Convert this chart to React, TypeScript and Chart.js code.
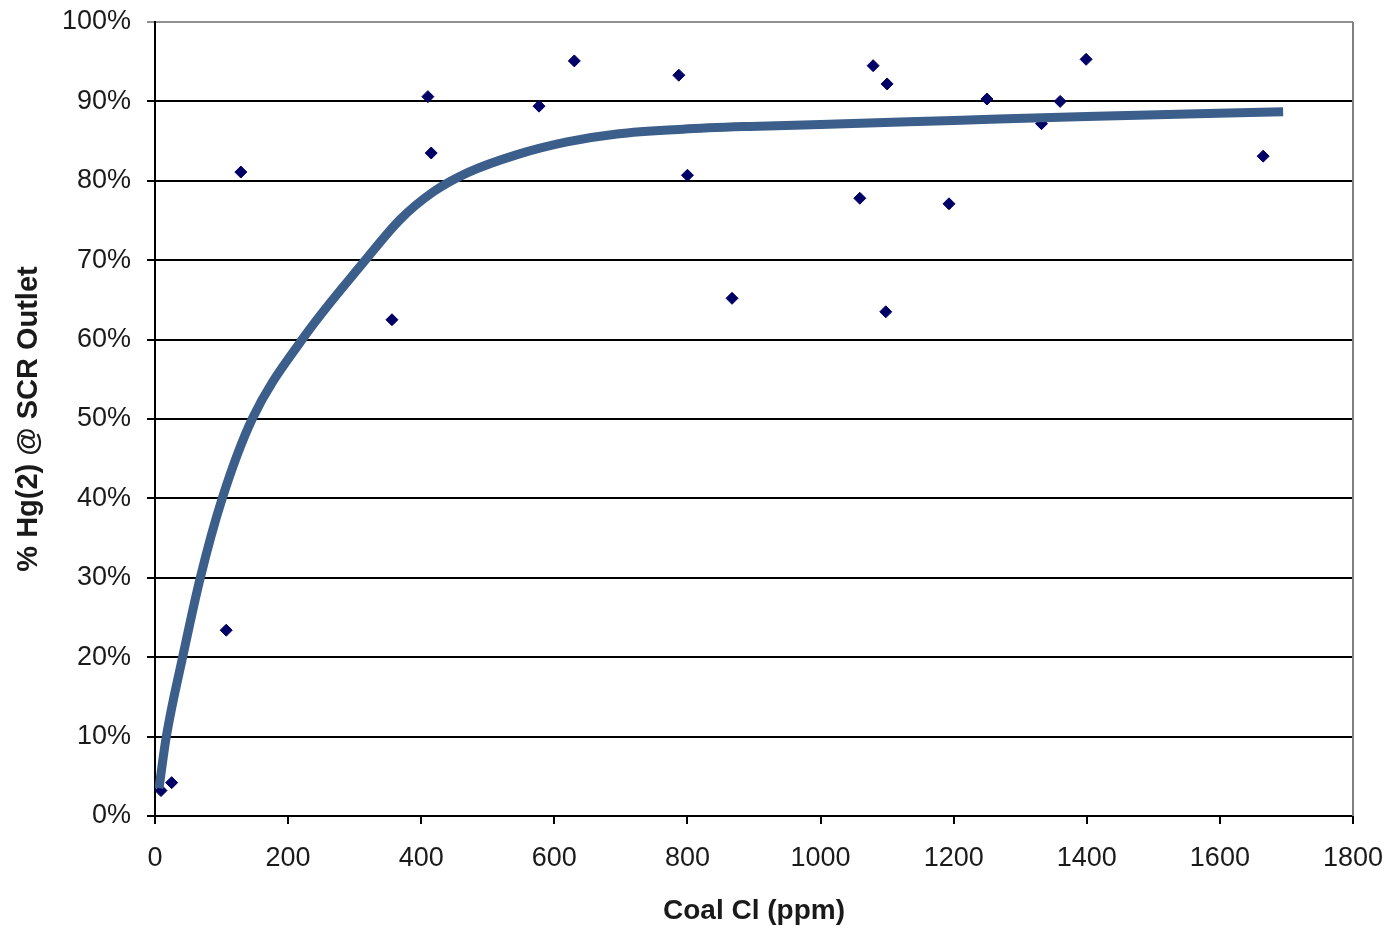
import React, { useEffect, useRef } from "react";
import { Chart, registerables } from "chart.js";

Chart.register(...registerables);

// Measured data: Coal Cl (ppm) vs % Hg(2) at SCR outlet
const coalCl = [9, 25, 107, 129, 356, 410, 415, 577, 630, 787, 800, 867, 1059, 1079, 1098, 1100, 1193, 1250, 1332, 1360, 1399, 1665];
const hgPct = [3.2, 4.2, 23.4, 81.1, 62.5, 90.6, 83.5, 89.4, 95.1, 93.3, 80.7, 65.2, 77.8, 94.5, 63.5, 92.2, 77.1, 90.3, 87.2, 90.0, 95.3, 83.1];

// Fitted trend curve
const fitX = [6, 17, 42, 68, 101, 146, 221, 316, 368, 418, 469, 544, 619, 694, 793, 894, 1000, 1200, 1400, 1695];
const fitY = [3.5, 10, 20.2, 30, 40, 50, 60, 70, 75.1, 78.6, 81.0, 83.3, 84.9, 85.9, 86.5, 86.85, 87.1, 87.6, 88.1, 88.7];

const xTicksMax = 1800;
const yTickStep = 10;

const FONT = "'Liberation Sans', Arial, sans-serif";

export default function App() {
  const ref = useRef<HTMLCanvasElement | null>(null);

  useEffect(() => {
    if (!ref.current) return;
    const rightBorder = {
      id: "rightBorder",
      beforeDatasetsDraw(chart: any) {
        const { ctx, chartArea } = chart;
        ctx.save();
        ctx.strokeStyle = "#808080";
        ctx.lineWidth = 2;
        ctx.beginPath();
        ctx.moveTo(chartArea.right, chartArea.top);
        ctx.lineTo(chartArea.right, chartArea.bottom);
        ctx.stroke();
        ctx.restore();
      },
    };
    const chart = new Chart(ref.current, {
      type: "scatter",
      data: {
        datasets: [
          {
            label: "fit",
            type: "line",
            data: fitX.map((x, i) => ({ x, y: fitY[i] })),
            borderColor: "#3B5E8B",
            borderWidth: 9,
            pointRadius: 0,
            cubicInterpolationMode: "monotone",
            fill: false,
            order: 0,
          } as any,
          {
            label: "data",
            data: coalCl.map((x, i) => ({ x, y: hgPct[i] })),
            pointStyle: "rectRot",
            pointRadius: 6,
            backgroundColor: "#000066",
            borderColor: "#000066",
            borderWidth: 1,
            order: 1,
          },
        ],
      },
      options: {
        animation: false,
        responsive: true,
        maintainAspectRatio: false,
        layout: { padding: { left: 0, right: 39, top: 22, bottom: 0 } },
        plugins: { legend: { display: false }, tooltip: { enabled: false } },
        scales: {
          x: {
            type: "linear",
            min: 0,
            max: xTicksMax,
            afterFit: (s: any) => {
              s.height = 112;
              s.paddingLeft = 0;
              s.paddingRight = 0;
            },
            ticks: {
              stepSize: 200,
              color: "#1a1a1a",
              font: { family: FONT, size: 27 },
              padding: 18,
              maxRotation: 0,
              callback: (v: any) => String(v),
            },
            grid: {
              drawOnChartArea: false,
              drawTicks: true,
              tickLength: 8,
              color: "#000",
              lineWidth: 2,
            },
            border: { display: true, color: "#000", width: 2 },
            title: {
              display: true,
              text: "Coal Cl (ppm)",
              color: "#1a1a1a",
              font: { family: FONT, size: 28, weight: "bold" },
              padding: { top: 0, bottom: 0 },
            },
          },
          y: {
            min: 0,
            max: 100,
            afterFit: (s: any) => {
              s.width = 155;
              s.paddingTop = 0;
              s.paddingBottom = 0;
            },
            ticks: {
              stepSize: yTickStep,
              color: "#1a1a1a",
              font: { family: FONT, size: 27 },
              padding: 16,
              callback: (v: any) => v + "%",
            },
            grid: {
              drawTicks: true,
              tickLength: 8,
              color: (c: any) => (c.tick && c.tick.value === 100 ? "#909090" : "#000"),
              lineWidth: 2,
            },
            border: { display: true, color: "#000", width: 2 },
            title: {
              display: true,
              text: "% Hg(2) @ SCR Outlet",
              color: "#1a1a1a",
              font: { family: FONT, size: 29, weight: "bold" },
              padding: { top: 12, bottom: 0 },
            },
          },
        },
      },
      plugins: [rightBorder],
    });
    return () => chart.destroy();
  }, []);

  return (
    <div style={{ position: "absolute", left: 0, top: 0, width: 1392, height: 928, background: "#fff" }}>
      <canvas ref={ref} />
    </div>
  );
}
